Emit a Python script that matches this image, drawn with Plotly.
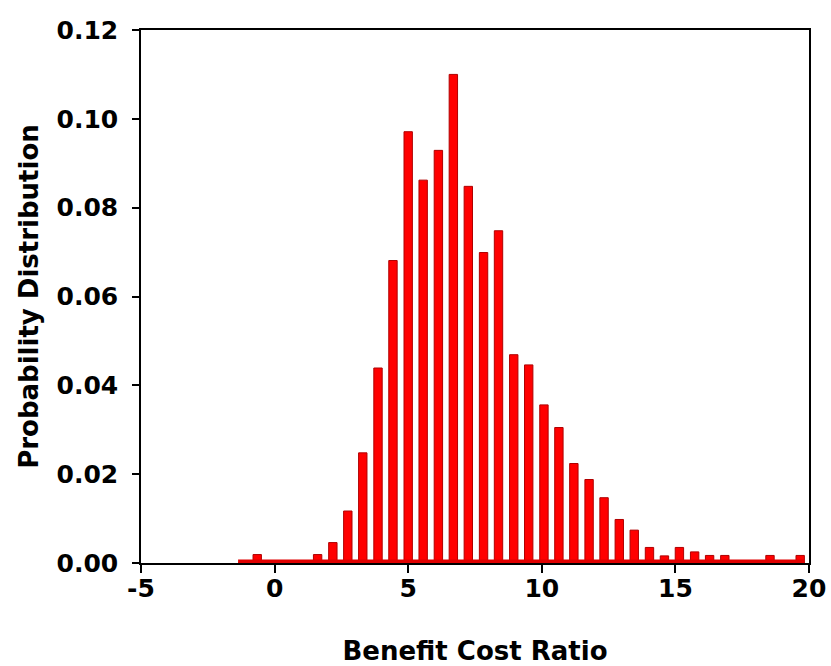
import plotly.graph_objects as go

# Bin centres (Benefit Cost Ratio) and probability per bin
bcr_bins = [-1.21, -0.65, -0.08, 0.48, 1.05, 1.61, 2.18, 2.74, 3.30, 3.87,
            4.43, 5.00, 5.56, 6.13, 6.69, 7.25, 7.82, 8.38, 8.95, 9.51,
            10.08, 10.64, 11.20, 11.77, 12.33, 12.90, 13.46, 14.03, 14.59, 15.15,
            15.72, 16.28, 16.85, 17.41, 17.97, 18.54, 19.10, 19.67]
probability = [0.0, 0.0019, 0.0, 0.0, 0.0, 0.0019, 0.0046, 0.0117, 0.0248, 0.0439,
               0.0681, 0.0971, 0.0862, 0.0929, 0.1100, 0.0848, 0.0699, 0.0748, 0.0469, 0.0446,
               0.0356, 0.0305, 0.0224, 0.0188, 0.0147, 0.0098, 0.0074, 0.0035, 0.0016, 0.0035,
               0.0025, 0.0017, 0.0017, 0.0, 0.0, 0.0017, 0.0, 0.0017]

x_ticks = [-5, 0, 5, 10, 15, 20]
y_ticks = [0.00, 0.02, 0.04, 0.06, 0.08, 0.10, 0.12]
y_tick_text = ["0.00", "0.02", "0.04", "0.06", "0.08", "0.10", "0.12"]

step = bcr_bins[1] - bcr_bins[0]
half_w = step * 0.56 / 2

font_family = "DejaVu Sans"

fig = go.Figure()
# baseline band spanning the full range of bins
fig.add_trace(go.Scatter(
    x=[bcr_bins[0] - half_w, bcr_bins[-1] + half_w], y=[0, 0],
    mode="lines", line=dict(color="#E00000", width=7),
    hoverinfo="skip", showlegend=False))
fig.add_trace(go.Bar(
    x=bcr_bins, y=probability,
    marker=dict(color="#FF0000", line=dict(color="#B00000", width=1)),
    showlegend=False))

fig.update_layout(
    width=831, height=666,
    margin=dict(l=141, r=22, t=30, b=103),
    paper_bgcolor="white", plot_bgcolor="white",
    bargap=0.44,
    font=dict(family=font_family, color="black"),
)
fig.update_xaxes(
    range=[-5, 20], tickvals=x_ticks, ticktext=[str(v) for v in x_ticks],
    showgrid=False, zeroline=False, automargin=False,
    showline=True, linecolor="black", linewidth=1.5, mirror=True,
    ticks="outside", ticklen=8, tickwidth=1.5, tickcolor="black",
    ticklabelstandoff=-6,
    tickfont=dict(size=25, family=font_family, weight="bold"),
    title=dict(text="<b>Benefit Cost Ratio</b>", font=dict(size=26, family=font_family), standoff=40),
)
fig.update_yaxes(
    range=[0, 0.12], tickvals=y_ticks, ticktext=y_tick_text,
    showgrid=False, zeroline=False, automargin=False,
    showline=True, linecolor="black", linewidth=1.5, mirror=True,
    ticks="outside", ticklen=7, tickwidth=1.5, tickcolor="black",
    ticklabelstandoff=9,
    tickfont=dict(size=25, family=font_family, weight="bold"),
    title=dict(text="<b>Probability Distribution</b>", font=dict(size=26, family=font_family), standoff=10),
)

fig.write_html("out.html")
